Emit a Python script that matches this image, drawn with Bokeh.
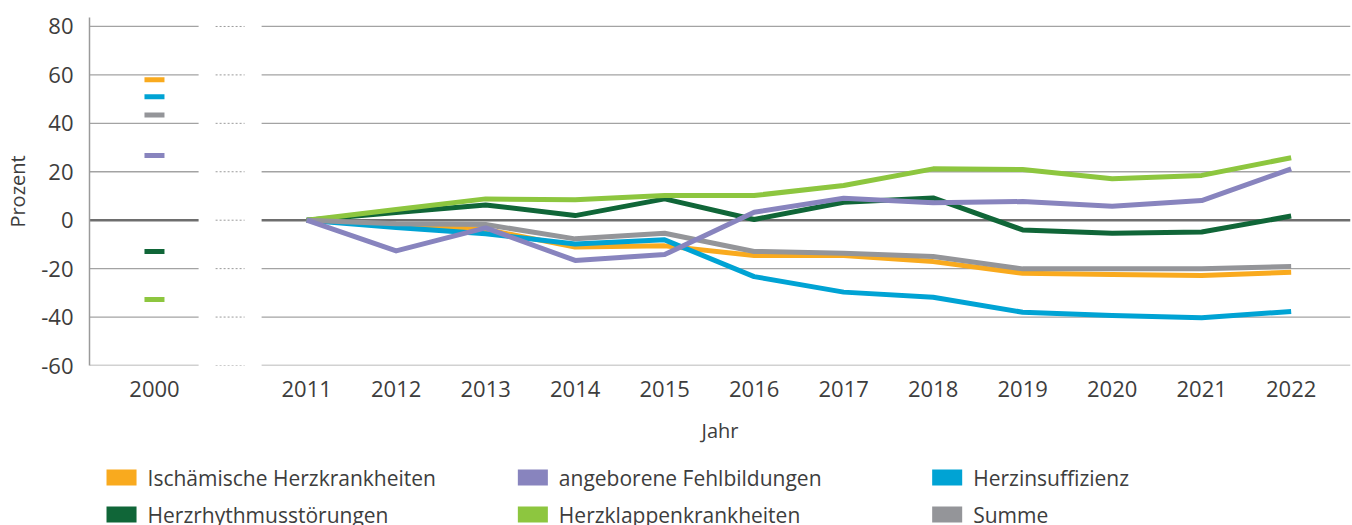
from bokeh.plotting import figure
from bokeh.layouts import column
from bokeh.models import FixedTicker, Range1d
from bokeh.core.properties import value
from bokeh.embed import file_html
from bokeh.resources import INLINE

# ---- data ----
years = ["2011", "2012", "2013", "2014", "2015", "2016", "2017", "2018", "2019", "2020", "2021", "2022"]
base_label = "2000"
series_names = ["Ischämische Herzkrankheiten", "angeborene Fehlbildungen", "Herzinsuffizienz",
                "Herzrhythmusstörungen", "Herzklappenkrankheiten", "Summe"]
colors = ["#F9AA1E", "#8884BE", "#00A3D4", "#106638", "#8DC63F", "#949599"]
values_2000 = [58.0, 26.7, 51.0, -12.9, -32.7, 43.4]
ischaemisch = [0, -2.0, -3.8, -11.1, -10.6, -14.6, -14.6, -17.1, -21.9, -22.4, -22.8, -21.5]
angeboren = [0, -12.7, -3.2, -16.6, -14.2, 3.3, 9.1, 7.2, 7.7, 5.8, 8.1, 21.2]
insuffizienz = [0, -3.0, -5.6, -9.8, -8.1, -23.3, -29.7, -31.8, -38.0, -39.4, -40.3, -37.7]
rhythmus = [0, 3.2, 6.3, 1.9, 8.8, 0.3, 7.4, 9.2, -4.0, -5.4, -4.9, 1.7]
klappen = [0, 4.4, 8.8, 8.4, 10.2, 10.2, 14.3, 21.2, 20.9, 17.1, 18.5, 25.8]
summe = [0, -1.5, -1.8, -7.7, -5.4, -12.9, -13.6, -15.0, -20.1, -20.1, -20.1, -19.1]
series_values = [ischaemisch, angeboren, insuffizienz, rhythmus, klappen, summe]
y_ticks = [-60, -40, -20, 0, 20, 40, 60, 80]
y_tick_labels = ["-60", "-40", "-20", "0", "20", "40", "60", "80"]

# ---- layout constants ----
FONT = "Open Sans"
TEXT = "#3d3d3d"
x_years = list(range(len(years)))
x_base = -1.70
X_START, X_END = -2.426, 11.663

p = figure(width=1352, height=455, x_range=Range1d(X_START, X_END), y_range=Range1d(-60, 83.7),
           output_backend="svg", toolbar_location=None,
           min_border_left=89, min_border_right=2, min_border_top=17, min_border_bottom=90)
p.outline_line_color = None
p.xgrid.visible = False
p.ygrid.visible = False

# axes
p.xaxis.ticker = FixedTicker(ticks=[x_base] + x_years)
p.xaxis.major_label_overrides = {x_base: base_label, **{x: y for x, y in zip(x_years, years)}}
p.xaxis.axis_line_color = None
p.xaxis.major_tick_line_color = None
p.xaxis.minor_tick_line_color = None
p.xaxis.major_tick_out = 0
p.xaxis.major_tick_in = 0
p.xaxis.minor_tick_out = 0
p.xaxis.major_label_standoff = 15
p.xaxis.axis_label = "Jahr"
p.xaxis.axis_label_standoff = 17

p.yaxis.ticker = FixedTicker(ticks=y_ticks)
p.yaxis.major_label_overrides = {t: s for t, s in zip(y_ticks, y_tick_labels)}
p.yaxis.axis_line_color = "#9a9a9a"
p.yaxis.axis_line_width = 1.5
p.yaxis.major_tick_line_color = None
p.yaxis.minor_tick_line_color = None
p.yaxis.major_tick_out = 0
p.yaxis.major_tick_in = 0
p.yaxis.minor_tick_out = 0
p.yaxis.major_label_standoff = 16
p.yaxis.axis_label = "Prozent"
p.yaxis.axis_label_standoff = 7

for ax in (p.xaxis, p.yaxis):
    ax.major_label_text_font = FONT
    ax.major_label_text_font_size = "22px"
    ax.major_label_text_color = TEXT
    ax.axis_label_text_font = FONT
    ax.axis_label_text_font_size = "20px"
    ax.axis_label_text_font_style = "normal"
    ax.axis_label_text_color = TEXT

# gridlines (broken between 2000 and 2011)
other = [t for t in y_ticks if t != 0]
seg_left = (X_START, -1.207)
seg_dot = (-1.017, -0.693)
seg_right = (-0.503, X_END)
for (a, b) in (seg_left, seg_right):
    p.segment(x0=[a] * len(other), x1=[b] * len(other), y0=other, y1=other,
              line_color="#a3a3a3", line_width=1.3)
    p.segment(x0=[a], x1=[b], y0=[0], y1=[0], line_color="#6e6e6e", line_width=2.4)
p.segment(x0=[seg_dot[0]] * len(y_ticks), x1=[seg_dot[1]] * len(y_ticks), y0=y_ticks, y1=y_ticks,
          line_color="#9a9a9a", line_width=1, line_dash="2 2")

# series: 2000 markers and 2011-2022 lines
for col, v0 in zip(colors, values_2000):
    p.rect(x=[x_base], y=[v0], width=20, height=5, width_units="screen", height_units="screen",
           fill_color=col, line_color=None)

draw_order = [0, 2, 3, 4, 5, 1]
for i in draw_order:
    p.line(x=x_years, y=series_values[i], line_color=colors[i], line_width=5, line_join="round")

# legend panel (3 columns x 2 rows, drawn as swatches + labels);
# its frame is aligned with the chart frame (page x 90..1350), so x here is page pixels
LH = 70
lg = figure(width=1352, height=LH, x_range=Range1d(90, 1350), y_range=Range1d(0, LH),
            output_backend="svg", toolbar_location=None, x_axis_location=None, y_axis_location=None,
            min_border_left=0, min_border_right=0, min_border_top=0, min_border_bottom=0)
lg.outline_line_color = None
lg.xgrid.visible = False
lg.ygrid.visible = False
col_left = [107, 518, 932]
row_y = [48, 11]
sw_x, sw_y, tx_x, tx_y = [], [], [], []
for k in range(len(series_names)):
    r, c = divmod(k, 3)
    sw_x.append(col_left[c] + 15)
    sw_y.append(row_y[r])
    tx_x.append(col_left[c] + 41)
    tx_y.append(row_y[r])
lg.rect(x=sw_x, y=sw_y, width=30, height=16, fill_color=colors, line_color=None)
lg.text(x=tx_x, y=tx_y, text=series_names, text_font=value(FONT), text_font_size="21px",
        text_color=TEXT, text_baseline="middle", text_align="left")

layout = column(p, lg, spacing=0)
open("out.html", "w").write(file_html(layout, INLINE))
